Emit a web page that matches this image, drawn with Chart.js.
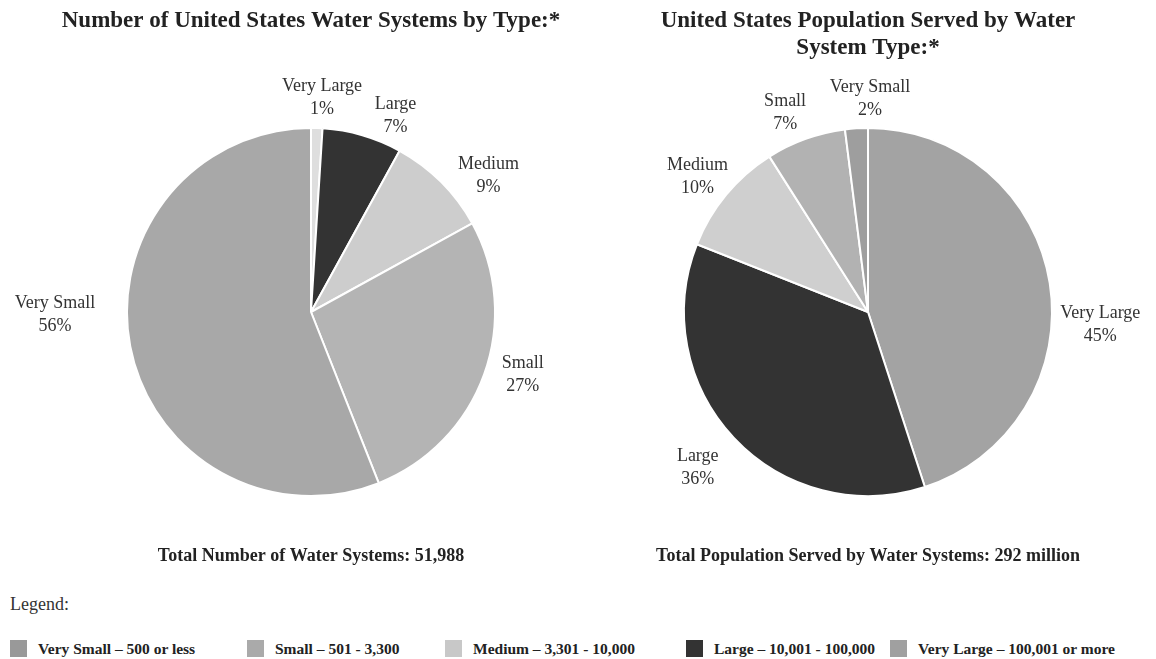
<!DOCTYPE html>
<html>
<head>
<meta charset="utf-8">
<script src="https://cdn.jsdelivr.net/npm/chart.js@4.4.1/dist/chart.umd.min.js"></script>
<style>
  body { margin: 0; background: #fff; font-family: "Liberation Serif", serif; color: #222; }
  #wrap { position: relative; width: 1156px; height: 659px; overflow: hidden; }
  .box { position: absolute; top: 0; width: 578px; height: 590px; }
  #legendTitle { position: absolute; left: 10px; top: 594px; font-size: 18px; color: #333; }
  #legend { position: absolute; left: 0; top: 640px; width: 1156px; height: 19px; }
  .item { position: absolute; top: 0; font-size: 15.5px; font-weight: bold; white-space: nowrap; line-height: 18px; }
  .sw { display: inline-block; width: 17px; height: 17px; vertical-align: -3px; margin-right: 11px; }
</style>
</head>
<body>
<div id="wrap">
  <div class="box" style="left:0"><canvas id="left"></canvas></div>
  <div class="box" style="left:578px"><canvas id="right"></canvas></div>
  <div id="legendTitle">Legend:</div>
  <div id="legend"></div>
</div>
<script>
// system types, listed clockwise from 12 o'clock
var systemTypes = ["Very Large", "Large", "Medium", "Small", "Very Small"];
var systemsPct = [1, 7, 9, 27, 56];
var systemColors = ["#dedede", "#333333", "#cdcdcd", "#b4b4b4", "#a8a8a8"];

var popTypes = ["Very Large", "Large", "Medium", "Small", "Very Small"];
var populationPct = [45, 36, 10, 7, 2];
var popColors = ["#a3a3a3", "#333333", "#cfcfcf", "#b2b2b2", "#9e9e9e"];

var legendNames = ["Very Small \u2013 500 or less", "Small \u2013 501 - 3,300", "Medium \u2013 3,301 - 10,000",
  "Large \u2013 10,001 - 100,000", "Very Large \u2013 100,001 or more"];
var legendColors = ["#999999", "#aaaaaa", "#c8c8c8", "#333333", "#a0a0a0"];
var legendX = [10, 247, 445, 686, 890];

// draws titles, footer and the outside slice labels
var textPlugin = {
  id: 'pieText',
  afterDraw: function (chart, args, opts) {
    var ctx = chart.ctx;
    ctx.save();
    ctx.fillStyle = '#222';
    ctx.textAlign = 'center';
    ctx.textBaseline = 'middle';
    ctx.font = 'bold 23px "Liberation Serif"';
    opts.title.forEach(function (t, i) {
      ctx.fillText(t, opts.titleX, 21 + i * 27);
    });
    ctx.font = 'bold 18px "Liberation Serif"';
    ctx.fillText(opts.footer, opts.titleX, 556);

    ctx.font = '18px "Liberation Serif"';
    ctx.fillStyle = '#333';
    var meta = chart.getDatasetMeta(0);
    meta.data.forEach(function (arc, i) {
      var mid = (arc.startAngle + arc.endAngle) / 2;
      var r = arc.outerRadius + 40;
      var nudge = opts.nudge[i];
      var x = arc.x + Math.cos(mid) * r + nudge[0];
      var y = arc.y + Math.sin(mid) * r + nudge[1];
      ctx.fillText(chart.data.labels[i], x, y - 11.5);
      ctx.fillText(chart.data.datasets[0].data[i] + '%', x, y + 11.5);
    });
    ctx.restore();
  }
};

function makePie(id, labels, values, colors, title, footer, pad, nudge) {
  return new Chart(document.getElementById(id), {
    type: 'pie',
    data: {
      labels: labels,
      datasets: [{
        data: values,
        backgroundColor: colors,
        borderColor: '#ffffff',
        borderWidth: 2
      }]
    },
    options: {
      responsive: true,
      maintainAspectRatio: false,
      animation: false,
      layout: { padding: pad },
      plugins: {
        legend: { display: false },
        tooltip: { enabled: false },
        pieText: { title: title, footer: footer, titleX: pad.left + 185, nudge: nudge }
      }
    },
    plugins: [textPlugin]
  });
}

makePie('left', systemTypes, systemsPct, systemColors,
  ["Number of United States Water Systems by Type:*"],
  "Total Number of Water Systems: 51,988",
  { left: 126, right: 82, top: 127, bottom: 93 },
  [[4, 10], [22, 19], [19, 22], [1, -13], [-36, -39]]);

makePie('right', popTypes, populationPct, popColors,
  ["United States Population Served by Water", "System Type:*"],
  "Total Population Served by Water Systems: 292 million",
  { left: 105, right: 103, top: 127, bottom: 93 },
  [[11, 48], [-7, 2], [2, 8], [-7, 12], [16, 10]]);

var lg = document.getElementById('legend');
legendNames.forEach(function (name, i) {
  var d = document.createElement('div');
  d.className = 'item';
  d.style.left = legendX[i] + 'px';
  d.innerHTML = '<span class="sw" style="background:' + legendColors[i] + '"></span>' + name;
  lg.appendChild(d);
});
</script>
</body>
</html>
